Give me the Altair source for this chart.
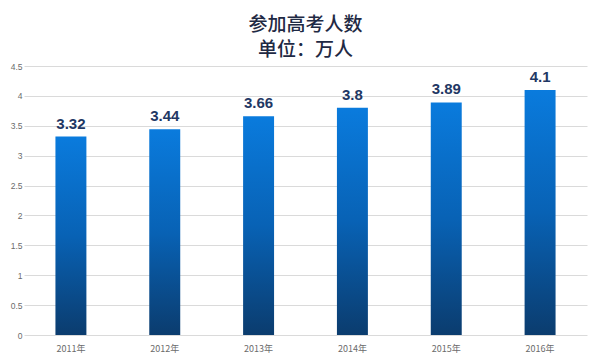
import altair as alt
import pandas as pd

years = ["2011年", "2012年", "2013年", "2014年", "2015年", "2016年"]
values = [3.32, 3.44, 3.66, 3.8, 3.89, 4.1]
labels = ["3.32", "3.44", "3.66", "3.8", "3.89", "4.1"]
y_ticks = [0, 0.5, 1, 1.5, 2, 2.5, 3, 3.5, 4, 4.5]

df = pd.DataFrame({"year": years, "value": values, "label": labels})

gradient = alt.Gradient(
    gradient="linear",
    stops=[
        alt.GradientStop(color="#0A7BDD", offset=0),
        alt.GradientStop(color="#0862B5", offset=0.5),
        alt.GradientStop(color="#0B3C6E", offset=1),
    ],
    x1=0, x2=0, y1=0, y2=1,
)

x = alt.X("year:N", sort=years, title=None,
          scale=alt.Scale(paddingInner=0.67, paddingOuter=0.335),
          axis=alt.Axis(labelAngle=0, domain=False, ticks=False, labelColor="#6B6B6B",
                        labelFontSize=9, labelFont="Noto Sans CJK SC", labelPadding=9))
y = alt.Y("value:Q", title=None,
          scale=alt.Scale(domain=[0, 4.5], nice=False),
          axis=alt.Axis(values=y_ticks, format="~g",
                        domain=False, ticks=False, labelColor="#6B6B6B", labelFontSize=8.5,
                        labelFont="Liberation Sans", labelPadding=2,
                        gridColor="#DADADA", gridWidth=1))

bars = alt.Chart(df).mark_bar(color=gradient).encode(x=x, y=y)
text = alt.Chart(df).mark_text(baseline="bottom", dy=-5, fontSize=15, fontWeight="bold",
                               color="#1F3864", font="Liberation Sans").encode(
    x=x, y=y, text="label:N")

chart = alt.layer(bars, text).properties(
    width=563, height=269,
    autosize=alt.AutoSizeParams(type="none"),
    padding={"left": 16, "top": 58, "right": 5, "bottom": 18},
    title=alt.TitleParams(text=["参加高考人数", "单位：万人"], fontSize=19, font="Noto Sans CJK SC",
                          fontWeight=500, color="#1F2A44", lineHeight=25, offset=2, anchor="middle"),
).configure_view(stroke=None)

chart.save("out.html", embed_options={"renderer": "svg", "actions": False})
